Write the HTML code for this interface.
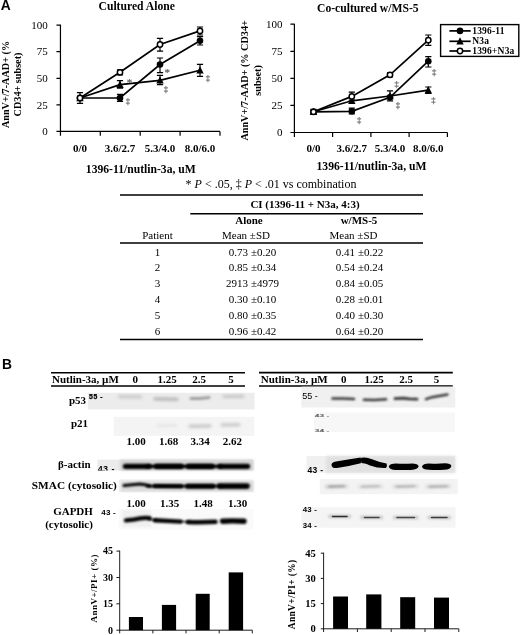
<!DOCTYPE html>
<html lang="en"><head><meta charset="utf-8"><title>Figure</title>
<style>
html,body{margin:0;padding:0;background:#fff;}
body{width:520px;height:635px;overflow:hidden;}
svg{display:block;}
text{font-family:"Liberation Serif",serif;fill:#000;}
.b{font-weight:bold;}
.s{font-family:"Liberation Sans",sans-serif;}
.g{fill:#6c6c6c;stroke:#6c6c6c;stroke-width:0.25;}
.ln{stroke:#000;stroke-width:1.7;fill:none;stroke-linecap:butt;}
.ax{stroke:#000;stroke-width:1.2;fill:none;}
.eb{stroke:#000;stroke-width:1.2;fill:none;}
</style></head><body>
<svg width="520" height="635" viewBox="0 0 520 635">
<defs>
<filter id="bl0" filterUnits="userSpaceOnUse" x="0" y="340" width="520" height="295"><feGaussianBlur stdDeviation="0.55"/></filter>
<filter id="bl1" filterUnits="userSpaceOnUse" x="0" y="340" width="520" height="295"><feGaussianBlur stdDeviation="0.8"/></filter>
<filter id="bl2" filterUnits="userSpaceOnUse" x="0" y="340" width="520" height="295"><feGaussianBlur stdDeviation="1.3"/></filter>
<filter id="bl3" filterUnits="userSpaceOnUse" x="0" y="340" width="520" height="295"><feGaussianBlur stdDeviation="1.6"/></filter>
</defs>
<rect width="520" height="635" fill="#fff"/>

<text x="0.7" y="10.1" font-size="13.8" class="b s">A</text>
<text x="1.9" y="369" font-size="13.8" class="b s">B</text>
<path class="ax" d="M56.45 25.1 H60.45 M60.45 24.6 V135.85"/>
<path class="ax" d="M56.45 131.45 H220 M100.3 131.45 v4.4 M140.2 131.45 v4.4 M180.1 131.45 v4.4 M220.0 131.45 v4.4 M56.45 104.9 H60.45 M56.45 78.3 H60.45 M56.45 51.7 H60.45"/>
<text x="47.7" y="135.1" font-size="11" text-anchor="end">0</text>
<text x="47.7" y="108.6" font-size="11" text-anchor="end">25</text>
<text x="47.7" y="82.0" font-size="11" text-anchor="end">50</text>
<text x="47.7" y="55.4" font-size="11" text-anchor="end">75</text>
<text x="47.7" y="28.8" font-size="11" text-anchor="end">100</text>
<text x="98.5" y="10" font-size="11.65" class="b">Cultured Alone</text>
<text x="80" y="151.5" font-size="11" class="b" text-anchor="middle">0/0</text>
<text x="120" y="151.5" font-size="11" class="b" text-anchor="middle">3.6/2.7</text>
<text x="160" y="151.5" font-size="11" class="b" text-anchor="middle">5.3/4.0</text>
<text x="200" y="151.5" font-size="11" class="b" text-anchor="middle">8.0/6.0</text>
<text x="140.8" y="172.8" font-size="11.65" class="b" text-anchor="middle">1396-11/nutlin-3a, uM</text>
<text transform="translate(8.7 84.5) rotate(-90)" font-size="10.2" class="b" text-anchor="middle">AnnV+/7-AAD+ (%</text>
<text transform="translate(21.3 84.5) rotate(-90)" font-size="10.2" class="b" text-anchor="middle">CD34+ subset)</text>
<path class="eb" d="M80.0 92.7 V103.3 M76.9 92.7 h6.2 M76.9 103.3 h6.2"/>
<path class="eb" d="M120.0 80.6 V88.2 M116.9 80.6 h6.2 M116.9 88.2 h6.2"/>
<path class="eb" d="M160.0 75.4 V84.6 M156.9 75.4 h6.2 M156.9 84.6 h6.2"/>
<path class="eb" d="M200.0 64.4 V76.4 M196.9 64.4 h6.2 M196.9 76.4 h6.2"/>
<path class="eb" d="M120.0 94.3 V101.3 M116.9 94.3 h6.2 M116.9 101.3 h6.2"/>
<path class="eb" d="M160.0 58.0 V72.6 M156.9 58.0 h6.2 M156.9 72.6 h6.2"/>
<path class="eb" d="M200.0 36.6 V45.0 M196.9 36.6 h6.2 M196.9 45.0 h6.2"/>
<path class="eb" d="M120.0 69.8 V74.8 M116.9 69.8 h6.2 M116.9 74.8 h6.2"/>
<path class="eb" d="M160.0 38.4 V51.2 M156.9 38.4 h6.2 M156.9 51.2 h6.2"/>
<path class="eb" d="M200.0 27.0 V35.0 M196.9 27.0 h6.2 M196.9 35.0 h6.2"/>
<polyline class="ln" points="80.0,98.0 120.0,84.6 160.0,80.3 200.0,70.3"/>
<polyline class="ln" points="80.0,98.0 120.0,98.0 160.0,64.5 200.0,40.8"/>
<polyline class="ln" points="80.0,98.0 120.0,72.3 160.0,44.5 200.0,30.9"/>
<path d="M80.0 93.9 l3.7 7.4 h-7.4z" fill="#000"/>
<path d="M120.0 80.5 l3.7 7.4 h-7.4z" fill="#000"/>
<path d="M160.0 76.2 l3.7 7.4 h-7.4z" fill="#000"/>
<path d="M200.0 66.2 l3.7 7.4 h-7.4z" fill="#000"/>
<circle cx="80.0" cy="98.0" r="3.3" fill="#000"/>
<circle cx="120.0" cy="98.0" r="3.3" fill="#000"/>
<circle cx="160.0" cy="64.5" r="3.3" fill="#000"/>
<circle cx="200.0" cy="40.8" r="3.3" fill="#000"/>
<circle cx="80.0" cy="98.0" r="2.65" fill="#fff" stroke="#000" stroke-width="1.5"/>
<circle cx="120.0" cy="72.3" r="2.65" fill="#fff" stroke="#000" stroke-width="1.5"/>
<circle cx="160.0" cy="44.5" r="2.65" fill="#fff" stroke="#000" stroke-width="1.5"/>
<circle cx="200.0" cy="30.9" r="2.65" fill="#fff" stroke="#000" stroke-width="1.5"/>
<text x="129.60000000000002" y="85.89999999999999" font-size="11" class="g" text-anchor="middle">*</text>
<text x="127.8" y="103.7" font-size="8.6" class="g" text-anchor="middle">‡</text>
<text x="167.3" y="75.89999999999999" font-size="11" class="g" text-anchor="middle">*</text>
<text x="165.8" y="92.0" font-size="8.6" class="g" text-anchor="middle">‡</text>
<text x="207.8" y="80.7" font-size="8.6" class="g" text-anchor="middle">‡</text>
<path class="ax" d="M290.4 24.2 H294.4 M294.4 23.7 V136.9"/>
<path class="ax" d="M290.4 132.5 H447.4 M332.6 132.5 v4.4 M370.9 132.5 v4.4 M409.1 132.5 v4.4 M447.4 132.5 v4.4 M290.4 105.4 H294.4 M290.4 78.3 H294.4 M290.4 51.3 H294.4"/>
<text x="282.6" y="136.2" font-size="11" text-anchor="end">0</text>
<text x="282.6" y="109.1" font-size="11" text-anchor="end">25</text>
<text x="282.6" y="82.0" font-size="11" text-anchor="end">50</text>
<text x="282.6" y="55.0" font-size="11" text-anchor="end">75</text>
<text x="282.6" y="27.9" font-size="11" text-anchor="end">100</text>
<text x="317" y="12.3" font-size="11.65" class="b">Co-cultured w/MS-5</text>
<text x="313.5" y="151.9" font-size="11" class="b" text-anchor="middle">0/0</text>
<text x="351.8" y="151.9" font-size="11" class="b" text-anchor="middle">3.6/2.7</text>
<text x="390" y="151.9" font-size="11" class="b" text-anchor="middle">5.3/4.0</text>
<text x="428.3" y="151.9" font-size="11" class="b" text-anchor="middle">8.0/6.0</text>
<text x="371.5" y="169.6" font-size="11.65" class="b" text-anchor="middle">1396-11/nutlin-3a, uM</text>
<text transform="translate(248.2 80.4) rotate(-90)" font-size="10.2" class="b" text-anchor="middle">AnnV+/7-AAD+ (% CD34+</text>
<text transform="translate(261.2 80.4) rotate(-90)" font-size="10.2" class="b" text-anchor="middle">subset)</text>
<path class="eb" d="M313.5 109.3 V114.3 M310.4 109.3 h6.2 M310.4 114.3 h6.2"/>
<path class="eb" d="M351.8 92.2 V100.2 M348.7 92.2 h6.2 M348.7 100.2 h6.2"/>
<path class="eb" d="M351.8 108.2 V113.8 M348.7 108.2 h6.2 M348.7 113.8 h6.2"/>
<path class="eb" d="M390.0 90.8 V100.8 M386.9 90.8 h6.2 M386.9 100.8 h6.2"/>
<path class="eb" d="M428.3 87.0 V93.4 M425.2 87.0 h6.2 M425.2 93.4 h6.2"/>
<path class="eb" d="M428.3 56.6 V67.0 M425.2 56.6 h6.2 M425.2 67.0 h6.2"/>
<path class="eb" d="M428.3 35.0 V45.4 M425.2 35.0 h6.2 M425.2 45.4 h6.2"/>
<path class="eb" d="M390.0 72.8 V76.8 M386.9 72.8 h6.2 M386.9 76.8 h6.2"/>
<polyline class="ln" points="313.5,111.8 351.8,100.8 390.0,96.0 428.3,90.2"/>
<polyline class="ln" points="313.5,111.8 351.8,111.3 390.0,97.3 428.3,61.2"/>
<polyline class="ln" points="313.5,111.8 351.8,96.4 390.0,74.8 428.3,40.2"/>
<path d="M313.5 107.7 l3.7 7.4 h-7.4z" fill="#000"/>
<path d="M351.8 96.7 l3.7 7.4 h-7.4z" fill="#000"/>
<path d="M390.0 91.9 l3.7 7.4 h-7.4z" fill="#000"/>
<path d="M428.3 86.1 l3.7 7.4 h-7.4z" fill="#000"/>
<circle cx="313.5" cy="111.8" r="3.3" fill="#000"/>
<circle cx="351.8" cy="111.3" r="3.3" fill="#000"/>
<circle cx="390.0" cy="97.3" r="3.3" fill="#000"/>
<circle cx="428.3" cy="61.2" r="3.3" fill="#000"/>
<circle cx="313.5" cy="111.8" r="2.65" fill="#fff" stroke="#000" stroke-width="1.5"/>
<circle cx="351.8" cy="96.4" r="2.65" fill="#fff" stroke="#000" stroke-width="1.5"/>
<circle cx="390.0" cy="74.8" r="2.65" fill="#fff" stroke="#000" stroke-width="1.5"/>
<circle cx="428.3" cy="40.2" r="2.65" fill="#fff" stroke="#000" stroke-width="1.5"/>
<text x="359.1" y="123.2" font-size="8.6" class="g" text-anchor="middle">‡</text>
<text x="396.6" y="86.9" font-size="8.6" class="g" text-anchor="middle">‡</text>
<text x="398" y="107.9" font-size="8.6" class="g" text-anchor="middle">‡</text>
<text x="434.1" y="74.9" font-size="8.6" class="g" text-anchor="middle">‡</text>
<text x="433.5" y="103.10000000000001" font-size="8.6" class="g" text-anchor="middle">‡</text>
<rect x="440.6" y="24.6" width="78.2" height="31.8" fill="#fff" stroke="#000" stroke-width="1.4"/>
<line x1="449.4" y1="30.9" x2="470.7" y2="30.9" class="ln"/>
<circle cx="460" cy="30.9" r="3.3" fill="#000"/>
<text x="472.2" y="34.0" font-size="9.5" class="b" letter-spacing="0.2">1396-11</text>
<line x1="449.4" y1="41.3" x2="470.7" y2="41.3" class="ln"/>
<path d="M460 37.2 l3.7 7.4 h-7.4z" fill="#000"/>
<text x="472.2" y="44.4" font-size="9.5" class="b" letter-spacing="0.2">N3a</text>
<line x1="449.4" y1="51" x2="470.7" y2="51" class="ln"/>
<circle cx="460" cy="51" r="2.65" fill="#fff" stroke="#000" stroke-width="1.5"/>
<text x="472.2" y="54.1" font-size="9.5" class="b" letter-spacing="0.2">1396+N3a</text>
<text x="271" y="188.3" font-size="12" text-anchor="middle">* <tspan font-style="italic">P</tspan> &lt; .05, ‡ <tspan font-style="italic">P</tspan> &lt; .01 vs combination</text>
<path d="M120 194.9 H423 M120 243 H423 M120 339.6 H423" stroke="#000" stroke-width="1.5" fill="none"/>
<path d="M190.3 213.8 H423" stroke="#000" stroke-width="1.4" fill="none"/>
<text x="305" y="207.5" font-size="11" class="b" text-anchor="middle">CI (1396-11 + N3a, 4:3)</text>
<text x="249" y="223.8" font-size="11" class="b" text-anchor="middle">Alone</text>
<text x="359" y="223.8" font-size="11" class="b" text-anchor="middle">w/MS-5</text>
<text x="157.5" y="239" font-size="11" text-anchor="middle">Patient</text>
<text x="246" y="239" font-size="11" text-anchor="middle">Mean ±SD</text>
<text x="353.5" y="239" font-size="11" text-anchor="middle">Mean ±SD</text>
<text x="157.5" y="255.8" font-size="11" text-anchor="middle">1</text>
<text x="248" y="255.8" font-size="11" text-anchor="end">0.73</text>
<text x="251" y="255.8" font-size="11">±0.20</text>
<text x="355" y="255.8" font-size="11" text-anchor="end">0.41</text>
<text x="358" y="255.8" font-size="11">±0.22</text>
<text x="157.5" y="271.2" font-size="11" text-anchor="middle">2</text>
<text x="248" y="271.2" font-size="11" text-anchor="end">0.85</text>
<text x="251" y="271.2" font-size="11">±0.34</text>
<text x="355" y="271.2" font-size="11" text-anchor="end">0.54</text>
<text x="358" y="271.2" font-size="11">±0.24</text>
<text x="157.5" y="287.2" font-size="11" text-anchor="middle">3</text>
<text x="248" y="287.2" font-size="11" text-anchor="end">2913</text>
<text x="251" y="287.2" font-size="11">±4979</text>
<text x="355" y="287.2" font-size="11" text-anchor="end">0.84</text>
<text x="358" y="287.2" font-size="11">±0.05</text>
<text x="157.5" y="302.9" font-size="11" text-anchor="middle">4</text>
<text x="248" y="302.9" font-size="11" text-anchor="end">0.30</text>
<text x="251" y="302.9" font-size="11">±0.10</text>
<text x="355" y="302.9" font-size="11" text-anchor="end">0.28</text>
<text x="358" y="302.9" font-size="11">±0.01</text>
<text x="157.5" y="318.9" font-size="11" text-anchor="middle">5</text>
<text x="248" y="318.9" font-size="11" text-anchor="end">0.80</text>
<text x="251" y="318.9" font-size="11">±0.35</text>
<text x="355" y="318.9" font-size="11" text-anchor="end">0.40</text>
<text x="358" y="318.9" font-size="11">±0.30</text>
<text x="157.5" y="334.9" font-size="11" text-anchor="middle">6</text>
<text x="248" y="334.9" font-size="11" text-anchor="end">0.96</text>
<text x="251" y="334.9" font-size="11">±0.42</text>
<text x="355" y="334.9" font-size="11" text-anchor="end">0.64</text>
<text x="358" y="334.9" font-size="11">±0.20</text>
<path d="M51 372.7 H245 M51 386 H245" stroke="#000" stroke-width="1.6" fill="none"/>
<text x="52" y="383.3" font-size="11" class="b">Nutlin-3a, µM</text>
<text x="135.3" y="383.3" font-size="11" class="b" text-anchor="middle">0</text>
<text x="167" y="383.3" font-size="11" class="b" text-anchor="middle">1.25</text>
<text x="199" y="383.3" font-size="11" class="b" text-anchor="middle">2.5</text>
<text x="231" y="383.3" font-size="11" class="b" text-anchor="middle">5</text>
<rect x="87.8" y="392.8" width="166.7" height="16.6" fill="#ececec"/>
<path d="M119.5 396.6 L140.5 396.9" stroke="#777" stroke-width="3.6" stroke-linecap="round" stroke-linejoin="round" fill="none" opacity="0.26" filter="url(#bl3)"/>
<path d="M155 398.8 L177 399.3" stroke="#666" stroke-width="3.2" stroke-linecap="round" stroke-linejoin="round" fill="none" opacity="0.4" filter="url(#bl3)"/>
<path d="M191 398.6 L200 398.4 L209 397.4" stroke="#555" stroke-width="3.0" stroke-linecap="round" stroke-linejoin="round" fill="none" opacity="0.5" filter="url(#bl2)"/>
<path d="M224 396.5 L243 396.3" stroke="#777" stroke-width="3.2" stroke-linecap="round" stroke-linejoin="round" fill="none" opacity="0.32" filter="url(#bl3)"/>
<text x="69" y="404.1" font-size="11" class="b">p53</text>
<text x="89.1" y="398.5" font-size="6.8" class="b s" letter-spacing="0.55" stroke="#000" stroke-width="0.25">55 -</text>
<text x="71" y="427.4" font-size="11" class="b">p21</text>
<rect x="113.7" y="416.8" width="140.5" height="19" fill="#f4f4f4"/>
<path d="M158 425.6 L176 425.4" stroke="#888" stroke-width="2.8" stroke-linecap="round" stroke-linejoin="round" fill="none" opacity="0.14" filter="url(#bl3)"/>
<path d="M190 426.3 L210 426" stroke="#777" stroke-width="3.4" stroke-linecap="round" stroke-linejoin="round" fill="none" opacity="0.34" filter="url(#bl3)"/>
<path d="M222 425 L239 424.8" stroke="#777" stroke-width="3.4" stroke-linecap="round" stroke-linejoin="round" fill="none" opacity="0.32" filter="url(#bl3)"/>
<text x="136" y="445.1" font-size="11" class="b" text-anchor="middle">1.00</text>
<text x="168.5" y="445.1" font-size="11" class="b" text-anchor="middle">1.68</text>
<text x="200" y="445.1" font-size="11" class="b" text-anchor="middle">3.34</text>
<text x="232.3" y="445.1" font-size="11" class="b" text-anchor="middle">2.62</text>
<rect x="97.5" y="459.6" width="156" height="11" fill="#ebebeb"/>
<rect x="120" y="459.6" width="133.5" height="11" fill="#d4d4d4" filter="url(#bl2)"/>
<path d="M125.5 466.3 L149 466.3" stroke="#050505" stroke-width="5.3" stroke-linecap="round" stroke-linejoin="round" fill="none" opacity="1" filter="url(#bl1)"/>
<path d="M156.5 466.3 L181 466.3" stroke="#050505" stroke-width="5.3" stroke-linecap="round" stroke-linejoin="round" fill="none" opacity="1" filter="url(#bl1)"/>
<path d="M188.5 466.3 L212 466.3" stroke="#050505" stroke-width="5.3" stroke-linecap="round" stroke-linejoin="round" fill="none" opacity="1" filter="url(#bl1)"/>
<path d="M220 466.3 L247.5 466.3" stroke="#050505" stroke-width="5.3" stroke-linecap="round" stroke-linejoin="round" fill="none" opacity="1" filter="url(#bl1)"/>
<path d="M147 466.4 L221 466.4" stroke="#050505" stroke-width="3.2" stroke-linecap="round" stroke-linejoin="round" fill="none" opacity="1" filter="url(#bl1)"/>
<text x="58" y="468.2" font-size="11" class="b">β-actin</text>
<svg x="97" y="462" width="22" height="8.45" overflow="hidden"><text x="0.7" y="9.9" font-size="9" class="b s" letter-spacing="0.4">43 -</text></svg>
<text x="31.8" y="489" font-size="11.3" class="b">SMAC (cytosolic)</text>
<rect x="118.8" y="479.4" width="134.7" height="12.6" fill="#f0f0f0"/>
<rect x="121" y="481" width="132.5" height="10.5" fill="#dcdcdc" filter="url(#bl2)"/>
<path d="M124 485.6 L132 484.8 L140 484 L145 484.8 L150 486" stroke="#050505" stroke-width="3.0" stroke-linecap="round" stroke-linejoin="round" fill="none" opacity="1" filter="url(#bl1)"/>
<path d="M154.5 486.1 L181.5 486.3" stroke="#050505" stroke-width="4.0" stroke-linecap="round" stroke-linejoin="round" fill="none" opacity="1" filter="url(#bl1)"/>
<path d="M187.5 486.3 L213 486.3" stroke="#050505" stroke-width="5.0" stroke-linecap="round" stroke-linejoin="round" fill="none" opacity="1" filter="url(#bl1)"/>
<path d="M219.5 486.1 L247 486.1" stroke="#050505" stroke-width="5.6" stroke-linecap="round" stroke-linejoin="round" fill="none" opacity="1" filter="url(#bl1)"/>
<path d="M147 486.2 L222 486.2" stroke="#050505" stroke-width="2.2" stroke-linecap="round" stroke-linejoin="round" fill="none" opacity="1" filter="url(#bl1)"/>
<text x="136" y="507.2" font-size="11" class="b" text-anchor="middle">1.00</text>
<text x="169.5" y="507.2" font-size="11" class="b" text-anchor="middle">1.35</text>
<text x="203.2" y="507.2" font-size="11" class="b" text-anchor="middle">1.48</text>
<text x="237.5" y="507.2" font-size="11" class="b" text-anchor="middle">1.30</text>
<text x="73" y="515" font-size="11" class="b" text-anchor="middle">GAPDH</text>
<text x="69" y="527.5" font-size="11" class="b" text-anchor="middle">(cytosolic)</text>
<text x="101.2" y="515.4" font-size="8" class="b s" letter-spacing="0.25">43 -</text>
<rect x="118.7" y="509" width="134.8" height="20.5" fill="#fafafa"/>
<rect x="122" y="510" width="29" height="17" fill="#f0f0f0" filter="url(#bl2)"/>
<path d="M126 520.4 Q134 520 140 518.4 Q145 517.4 149.5 518.2" stroke="#050505" stroke-width="4.4" stroke-linecap="round" stroke-linejoin="round" fill="none" opacity="1" filter="url(#bl1)"/>
<path d="M155 520.3 Q167 520.9 180.5 521.6" stroke="#050505" stroke-width="4.4" stroke-linecap="round" stroke-linejoin="round" fill="none" opacity="1" filter="url(#bl1)"/>
<path d="M188 522 Q201 522.5 215.5 521.8" stroke="#050505" stroke-width="4.5" stroke-linecap="round" stroke-linejoin="round" fill="none" opacity="1" filter="url(#bl1)"/>
<path d="M222.5 521.2 Q233 520.6 244 521.3" stroke="#050505" stroke-width="5.4" stroke-linecap="round" stroke-linejoin="round" fill="none" opacity="1" filter="url(#bl1)"/>
<path d="M148.5 519 L156 520.2" stroke="#050505" stroke-width="1.6" stroke-linecap="round" stroke-linejoin="round" fill="none" opacity="1" filter="url(#bl1)"/>
<path d="M180.5 521.4 L189 522" stroke="#050505" stroke-width="1.4" stroke-linecap="round" stroke-linejoin="round" fill="none" opacity="1" filter="url(#bl1)"/>
<path d="M259 372.6 H452.8 M259 386 H452.8" stroke="#000" stroke-width="1.6" fill="none"/>
<text x="260.8" y="383.3" font-size="11" class="b">Nutlin-3a, µM</text>
<text x="343.7" y="383.3" font-size="11" class="b" text-anchor="middle">0</text>
<text x="374" y="383.3" font-size="11" class="b" text-anchor="middle">1.25</text>
<text x="406" y="383.3" font-size="11" class="b" text-anchor="middle">2.5</text>
<text x="436.5" y="383.3" font-size="11" class="b" text-anchor="middle">5</text>
<rect x="301.5" y="386.6" width="153.8" height="20.9" fill="#f0f0f0"/>
<text x="302.3" y="398.7" font-size="9" class="s">55 -</text>
<path d="M332.5 398.4 L343 398.6 L354 399" stroke="#2e2e2e" stroke-width="2.5" stroke-linecap="round" stroke-linejoin="round" fill="none" opacity="0.95" filter="url(#bl1)"/>
<path d="M364 399.7 L375 400 L386 399.3" stroke="#2e2e2e" stroke-width="2.6" stroke-linecap="round" stroke-linejoin="round" fill="none" opacity="0.95" filter="url(#bl1)"/>
<path d="M395 398.6 L403 398.1 L409 398.9 L417 399.1" stroke="#2a2a2a" stroke-width="2.9" stroke-linecap="round" stroke-linejoin="round" fill="none" opacity="0.95" filter="url(#bl1)"/>
<path d="M426 399.2 L432 397.2 L447.5 394.5" stroke="#2e2e2e" stroke-width="2.4" stroke-linecap="round" stroke-linejoin="round" fill="none" opacity="0.95" filter="url(#bl1)"/>
<rect x="314" y="412.4" width="141" height="19.6" fill="#f7f7f7"/>
<text transform="translate(314.8 416.8) scale(1.4 0.55)" font-size="6" class="b s" style="fill:#555">43 -</text>
<text transform="translate(314.8 431.5) scale(1.4 0.55)" font-size="6" class="b s" style="fill:#555">34 -</text>
<rect x="306.5" y="456" width="148.8" height="16.8" fill="#f0f0f0"/>
<rect x="326" y="456" width="129.3" height="16.8" fill="#e0e0e0" filter="url(#bl3)"/>
<path d="M331.5 465.2 Q331 462.6 336 461.6 Q348 459.6 360.6 457.6 Q362 460.6 360.8 463.2 Q348 466.4 337 468 Q332 468.4 331.5 465.2 Z" fill="#050505" opacity="1" filter="url(#bl0)"/>
<path d="M361.2 457.8 Q366 456.6 372 459.2 Q380 462.4 386.6 463.6 Q387.6 466 386 468 Q378 468.4 370 465.4 Q364 463 361.4 463 Q360.4 460 361.2 457.8 Z" fill="#050505" opacity="1" filter="url(#bl0)"/>
<path d="M388.8 466.4 Q389.5 463.4 396 463.4 Q404 464 412 463.4 Q418 463.4 418.6 466.2 Q418 469.6 411 469.9 Q403.5 470.3 396 469.9 Q389.4 469.6 388.8 466.4 Z" fill="#050505" opacity="1" filter="url(#bl0)"/>
<path d="M422 466.4 Q422.8 463.4 429 463.4 Q437 464 445 463.3 Q450.8 463.3 451.4 466 Q450.8 469.4 444 469.8 Q436.5 470.2 429 469.8 Q422.6 469.5 422 466.4 Z" fill="#050505" opacity="1" filter="url(#bl0)"/>
<text x="307.6" y="473" font-size="8.5" class="b s" letter-spacing="0.3">43 -</text>
<rect x="319.8" y="479" width="138" height="15.2" fill="#f3f3f3"/>
<path d="M326.5 486.6 L346.5 486.2" stroke="#999" stroke-width="3.6" stroke-linecap="round" stroke-linejoin="round" fill="none" opacity="0.372" filter="url(#bl3)"/>
<path d="M329.0 486.6 L344.0 486.2" stroke="#666" stroke-width="1.6" stroke-linecap="round" stroke-linejoin="round" fill="none" opacity="0.62" filter="url(#bl1)"/>
<path d="M359.5 486.6 L381.5 486.2" stroke="#999" stroke-width="3.6" stroke-linecap="round" stroke-linejoin="round" fill="none" opacity="0.24" filter="url(#bl3)"/>
<path d="M362.0 486.6 L379.0 486.2" stroke="#666" stroke-width="1.6" stroke-linecap="round" stroke-linejoin="round" fill="none" opacity="0.4" filter="url(#bl1)"/>
<path d="M394 486.6 L417 486.2" stroke="#999" stroke-width="3.6" stroke-linecap="round" stroke-linejoin="round" fill="none" opacity="0.276" filter="url(#bl3)"/>
<path d="M396.5 486.6 L414.5 486.2" stroke="#666" stroke-width="1.6" stroke-linecap="round" stroke-linejoin="round" fill="none" opacity="0.46" filter="url(#bl1)"/>
<path d="M427 486.6 L449.5 486.2" stroke="#999" stroke-width="3.6" stroke-linecap="round" stroke-linejoin="round" fill="none" opacity="0.3" filter="url(#bl3)"/>
<path d="M429.5 486.6 L447.0 486.2" stroke="#666" stroke-width="1.6" stroke-linecap="round" stroke-linejoin="round" fill="none" opacity="0.5" filter="url(#bl1)"/>
<rect x="301.5" y="507.2" width="154" height="20.5" fill="#f4f4f4"/>
<path d="M330.0 516.4 L349.5 516.5" stroke="#888" stroke-width="3.6" stroke-linecap="round" stroke-linejoin="round" fill="none" opacity="0.4" filter="url(#bl2)"/>
<path d="M332.5 516.4 L347 516.5" stroke="#222" stroke-width="1.5" stroke-linecap="round" stroke-linejoin="round" fill="none" opacity="0.95" filter="url(#bl0)"/>
<path d="M362.0 517.4 L381.5 517.5" stroke="#888" stroke-width="3.6" stroke-linecap="round" stroke-linejoin="round" fill="none" opacity="0.4" filter="url(#bl2)"/>
<path d="M364.5 517.4 L379 517.5" stroke="#222" stroke-width="1.5" stroke-linecap="round" stroke-linejoin="round" fill="none" opacity="0.8" filter="url(#bl0)"/>
<path d="M394.5 517.5 L417.0 517.6" stroke="#888" stroke-width="3.6" stroke-linecap="round" stroke-linejoin="round" fill="none" opacity="0.4" filter="url(#bl2)"/>
<path d="M397 517.5 L414.5 517.6" stroke="#222" stroke-width="1.5" stroke-linecap="round" stroke-linejoin="round" fill="none" opacity="0.8" filter="url(#bl0)"/>
<path d="M429.0 517.5 L449.5 517.6" stroke="#888" stroke-width="3.6" stroke-linecap="round" stroke-linejoin="round" fill="none" opacity="0.4" filter="url(#bl2)"/>
<path d="M431.5 517.5 L447 517.6" stroke="#222" stroke-width="1.5" stroke-linecap="round" stroke-linejoin="round" fill="none" opacity="0.85" filter="url(#bl0)"/>
<text x="302.7" y="512" font-size="7.8" class="b s" letter-spacing="0.2">43 -</text>
<text x="302.7" y="527.6" font-size="7.8" class="b s" letter-spacing="0.2">34 -</text>
<path d="M119.7 550.6 V633.4000000000001 M116.4 630.2 H252.3 M152.9 630.2 v3.2 M186.0 630.2 v3.2 M219.2 630.2 v3.2 M252.3 630.2 v3.2 M116.4 603.8 H119.7 M116.4 577.5 H119.7 M116.4 551.1 H119.7" stroke="#111" stroke-width="0.95" fill="none"/>
<text x="113" y="633.5" font-size="10" class="b" text-anchor="end">0</text>
<text x="113" y="607.1" font-size="10" class="b" text-anchor="end">15</text>
<text x="113" y="580.8" font-size="10" class="b" text-anchor="end">30</text>
<text x="113" y="554.4" font-size="10" class="b" text-anchor="end">45</text>
<rect x="128.9" y="617" width="14.1" height="13.2" fill="#000"/>
<rect x="161.9" y="604.9" width="14.2" height="25.3" fill="#000"/>
<rect x="195.7" y="593.8" width="14.0" height="36.4" fill="#000"/>
<rect x="228.7" y="572.4" width="14.4" height="57.8" fill="#000"/>
<text transform="translate(97.2 588.3) rotate(-90)" font-size="9" class="b" text-anchor="middle" letter-spacing="0.5">AnnV+/PI+ (%)</text>
<path d="M323.6 552.7 V632.0 M320.8 628.8 H458.8 M357.4 628.8 v3.2 M391.2 628.8 v3.2 M425.0 628.8 v3.2 M458.8 628.8 v3.2 M320.8 603.6 H323.6 M320.8 578.4 H323.6 M320.8 553.2 H323.6" stroke="#111" stroke-width="0.95" fill="none"/>
<text x="315.8" y="632.3" font-size="10.6" class="b" text-anchor="end">0</text>
<text x="315.8" y="607.1" font-size="10.6" class="b" text-anchor="end">15</text>
<text x="315.8" y="581.9" font-size="10.6" class="b" text-anchor="end">30</text>
<text x="315.8" y="556.7" font-size="10.6" class="b" text-anchor="end">45</text>
<rect x="333.1" y="596.5" width="14.9" height="32.3" fill="#000"/>
<rect x="366.2" y="594.4" width="15.2" height="34.4" fill="#000"/>
<rect x="400.2" y="597.2" width="15.0" height="31.6" fill="#000"/>
<rect x="434" y="597.6" width="15.0" height="31.2" fill="#000"/>
<text transform="translate(295.2 594.4) rotate(-90)" font-size="9.4" class="b" text-anchor="middle" letter-spacing="0.4">AnnV+/PI+ (%)</text>
</svg></body></html>
